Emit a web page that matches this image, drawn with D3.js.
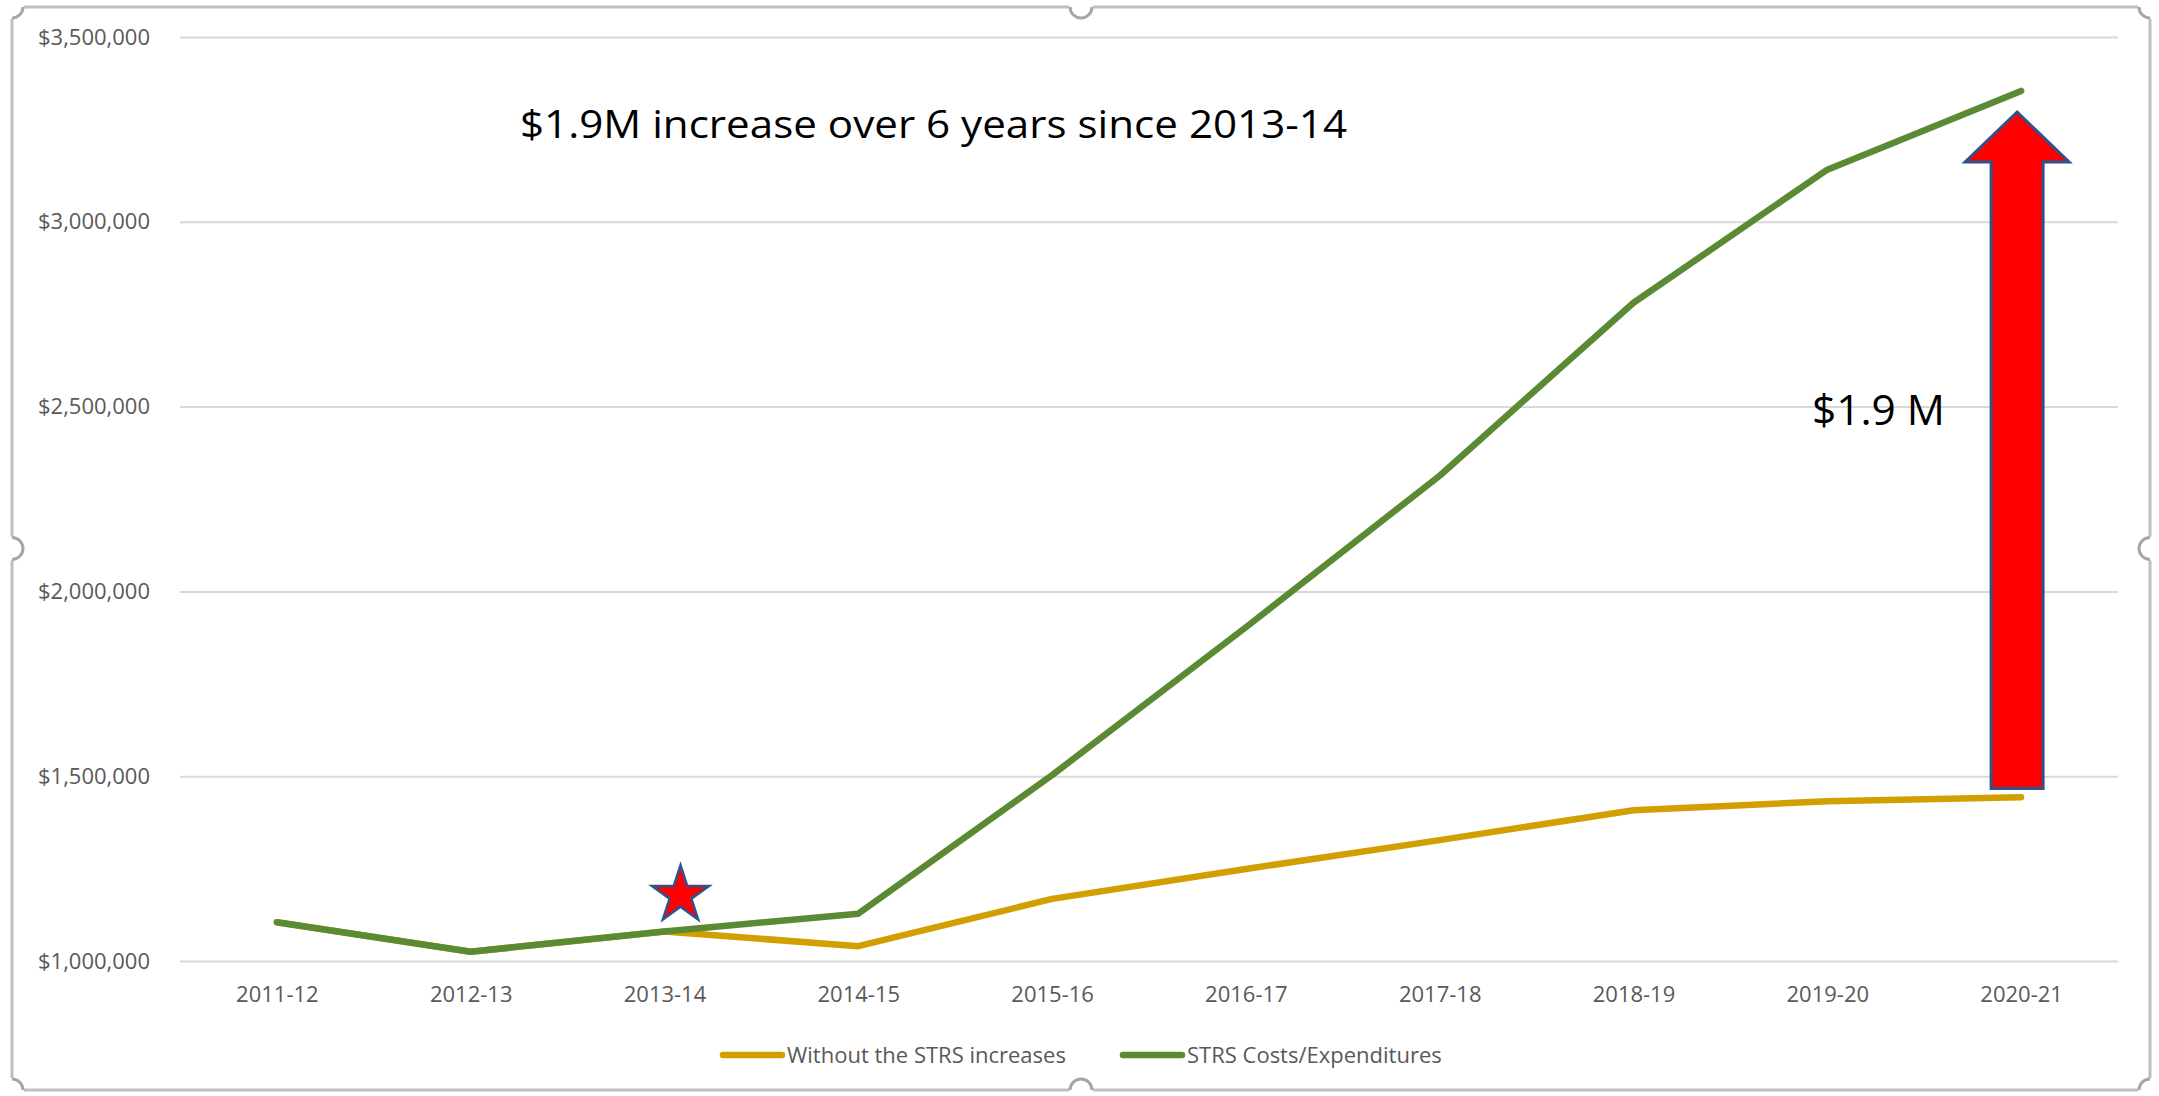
<!DOCTYPE html>
<html>
<head>
<meta charset="utf-8">
<script src="https://cdn.jsdelivr.net/npm/d3@7"></script>
<style>
  body { margin: 0; background: #fff; }
  text { font-family: "Open Sans", sans-serif; }
</style>
</head>
<body>
<script>
var years = ["2011-12", "2012-13", "2013-14", "2014-15", "2015-16",
             "2016-17", "2017-18", "2018-19", "2019-20", "2020-21"];

// STRS Costs/Expenditures
var strsCosts = [1105000, 1025000, 1080000, 1128000, 1503000,
                 1903000, 2313000, 2781000, 3141000, 3354000];

// Without the STRS increases
var withoutIncrease = [1105000, 1025000, 1080000, 1040000, 1168000,
                       1249000, 1327000, 1408000, 1432000, 1443000];

var yTicks = [1000000, 1500000, 2000000, 2500000, 3000000, 3500000];

var seriesNames = ["Without the STRS increases", "STRS Costs/Expenditures"];
var seriesColors = ["#D1A000", "#5A8A34"];

var titleText = "$1.9M increase over 6 years since 2013-14";
var arrowText = "$1.9 M";
var arrowFrom = 1467000, arrowTo = 3297000;
var starAt = { year: "2013-14", value: 1178000 };

var W = 2159, H = 1096;
var frame = {left: 12, top: 7, right: 2150, bottom: 1090};
var plot = {left: 180, right: 2118, top: 37, bottom: 961};

var svg = d3.select("body").append("svg")
    .attr("width", W)
    .attr("height", H);

var x = d3.scalePoint()
    .domain(years)
    .range([plot.left, plot.right])
    .padding(0.5);

var y = d3.scaleLinear()
    .domain([1000000, 3500000])
    .range([plot.bottom, plot.top]);

// chart frame with the little handles
svg.append("rect")
    .attr("x", frame.left)
    .attr("y", frame.top)
    .attr("width", frame.right - frame.left)
    .attr("height", frame.bottom - frame.top)
    .attr("fill", "none")
    .attr("stroke", "#BFBFBF")
    .attr("stroke-width", 3);

var midX = (frame.left + frame.right) / 2,
    midY = (frame.top + frame.bottom) / 2;
var handles = [
    {cx: frame.left, cy: frame.top, a0: Math.PI / 2, a1: Math.PI},
    {cx: midX, cy: frame.top, a0: Math.PI / 2, a1: 3 * Math.PI / 2},
    {cx: frame.right, cy: frame.top, a0: Math.PI, a1: 3 * Math.PI / 2},
    {cx: frame.left, cy: midY, a0: 0, a1: Math.PI},
    {cx: frame.right, cy: midY, a0: Math.PI, a1: 2 * Math.PI},
    {cx: frame.left, cy: frame.bottom, a0: 0, a1: Math.PI / 2},
    {cx: midX, cy: frame.bottom, a0: -Math.PI / 2, a1: Math.PI / 2},
    {cx: frame.right, cy: frame.bottom, a0: -Math.PI / 2, a1: 0}
];
var hg = svg.append("g");
hg.selectAll("circle")
    .data(handles)
    .enter()
    .append("circle")
    .attr("cx", function (d) { return d.cx; })
    .attr("cy", function (d) { return d.cy; })
    .attr("r", 12)
    .attr("fill", "#fff");
hg.selectAll("path")
    .data(handles)
    .enter()
    .append("path")
    .attr("transform", function (d) { return "translate(" + d.cx + "," + d.cy + ")"; })
    .attr("d", function (d) {
        return d3.arc()({innerRadius: 11, outerRadius: 11, startAngle: d.a0, endAngle: d.a1});
    })
    .attr("fill", "none")
    .attr("stroke", "#A6A6A6")
    .attr("stroke-width", 3);

// gridlines
var grid = svg.append("g")
    .attr("transform", "translate(" + plot.left + ",0)")
    .call(d3.axisLeft(y).tickValues(yTicks).tickSize(-(plot.right - plot.left)).tickFormat(""));
grid.select(".domain").remove();
grid.selectAll("line").attr("stroke", "#D9D9D9").attr("stroke-width", 2);

// y axis labels
var yAxis = svg.append("g")
    .attr("transform", "translate(150,0)")
    .call(d3.axisLeft(y).tickValues(yTicks).tickSize(0).tickPadding(0).tickFormat(d3.format("$,")));
yAxis.select(".domain").remove();
yAxis.selectAll("text")
    .attr("font-family", "Open Sans")
    .attr("font-size", "22px")
    .attr("fill", "#595959");

// x axis labels
var xAxis = svg.append("g")
    .attr("transform", "translate(0," + plot.bottom + ")")
    .call(d3.axisBottom(x).tickSize(0).tickPadding(25));
xAxis.select(".domain").remove();
xAxis.selectAll("text")
    .attr("font-family", "Open Sans")
    .attr("font-size", "22px")
    .attr("fill", "#595959");

// lines
var line = d3.line()
    .x(function (d, i) { return x(years[i]); })
    .y(function (d) { return y(d); });

svg.append("path")
    .datum(withoutIncrease)
    .attr("d", line)
    .attr("fill", "none")
    .attr("stroke", seriesColors[0])
    .attr("stroke-width", 6.5)
    .attr("stroke-linecap", "round")
    .attr("stroke-linejoin", "round");

svg.append("path")
    .datum(strsCosts)
    .attr("d", line)
    .attr("fill", "none")
    .attr("stroke", seriesColors[1])
    .attr("stroke-width", 6.5)
    .attr("stroke-linecap", "round")
    .attr("stroke-linejoin", "round");

// legend
var legendX = [723, 1123];
var legend = svg.selectAll(".legend")
    .data(seriesNames)
    .enter()
    .append("g")
    .attr("class", "legend")
    .attr("transform", function (d, i) { return "translate(" + legendX[i] + ",1055)"; });
legend.append("line")
    .attr("x1", 0)
    .attr("x2", 59)
    .attr("stroke", function (d, i) { return seriesColors[i]; })
    .attr("stroke-width", 6.5)
    .attr("stroke-linecap", "round");
legend.append("text")
    .attr("x", 64)
    .attr("y", 8)
    .attr("font-size", "22px")
    .attr("fill", "#595959")
    .text(function (d) { return d; });

// title annotation
svg.append("text")
    .attr("x", 520)
    .attr("y", 138)
    .attr("font-size", "39px")
    .attr("fill", "#000")
    .attr("textLength", 827)
    .attr("lengthAdjust", "spacingAndGlyphs")
    .text(titleText);

// red arrow
var ax = x("2020-21") - 4;
var tipY = y(arrowTo), baseY = y(arrowFrom);
var headY = tipY + 50;
var arrowPts = [
    [ax, tipY], [ax + 52, headY], [ax + 26, headY], [ax + 26, baseY],
    [ax - 26, baseY], [ax - 26, headY], [ax - 52, headY]
];
svg.append("path")
    .attr("d", d3.line()(arrowPts) + "Z")
    .attr("fill", "#FF0000")
    .attr("stroke", "#2F528F")
    .attr("stroke-width", 3)
    .attr("stroke-linejoin", "miter");

svg.append("text")
    .attr("x", 1812)
    .attr("y", 425)
    .attr("font-size", "42px")
    .attr("fill", "#000")
    .attr("textLength", 133)
    .attr("lengthAdjust", "spacingAndGlyphs")
    .text(arrowText);

// star
svg.append("path")
    .attr("transform", "translate(" + (x(starAt.year) + 16) + "," + y(starAt.value) + ")")
    .attr("d", d3.symbol().type(d3.symbolStar).size(1010)())
    .attr("fill", "#FF0000")
    .attr("stroke", "#2F528F")
    .attr("stroke-width", 2.5);
</script>
</body>
</html>
